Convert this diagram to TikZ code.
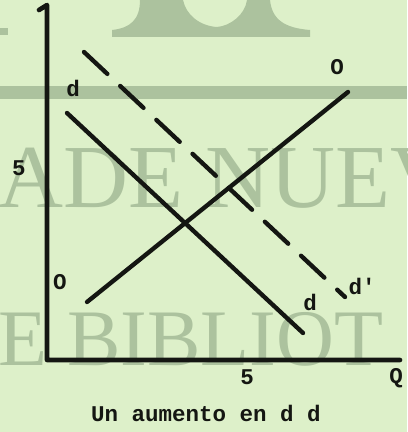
\documentclass[tikz,border=0pt]{standalone}
\usepackage{fontspec}
\setmainfont{Liberation Serif}
\setmonofont{Liberation Mono}
\definecolor{paper}{RGB}{221,240,201}
\definecolor{wmark}{RGB}{172,194,158}
\definecolor{ink}{RGB}{20,22,18}
\begin{document}
\begin{tikzpicture}[x=0.025cm,y=-0.025cm,
        axis/.style={ink, line width=3.3pt, line cap=round, line join=round},
        curve/.style={ink, line width=3.1pt, line cap=round},
        shifted/.style={curve, dash pattern=on 0.8cm off 0.44cm},
        lbl/.style={font=\fontsize{16}{16}\ttfamily\bfseries, text=ink, inner sep=0pt},
        wm/.style={text=wmark, inner sep=0pt, anchor=base west}
        ]
      \useasboundingbox (0,0) rectangle (407,432);
      \clip (0,0) rectangle (407,432);
      % paper and watermark
      \fill[paper] (0,0) rectangle (407,432);
      \fill[wmark] (0,86) rectangle (407,99);
      \fill[wmark] (0,28) rectangle (8,35);
      \fill[wmark] (112,37) -- (310,37) -- (310,30)
          .. controls (285,28) and (272,20) .. (270,0) -- (247,0)
          .. controls (245,15) and (230,26) .. (217,27)
          .. controls (200,26) and (186,15) .. (183,0) -- (140,0)
          .. controls (140,20) and (130,28) .. (112,30) -- cycle;
      \node[wm, font=\fontsize{64}{64}\rmfamily] (wm1) at (-2,207) {ADE NUEV};
      \node[wm, font=\fontsize{57}{57}\rmfamily] (wm2) at (-2,365) {E BIBLIOT};
      % axes
      \coordinate (ytop) at (47,5);
      \coordinate (org) at (47,360);
      \coordinate (xend) at (400,360);
      \draw[axis] (39,10) -- (ytop) -- (org) -- (xend);
      % curves
      \coordinate (d1) at (67,113);
      \coordinate (d2) at (303,333);
      \coordinate (o1) at (87,302);
      \coordinate (o2) at (348,92);
      \coordinate (dd1) at (84,52);
      \coordinate (dd2) at (345,297);
      \draw[curve] (d1) -- (d2);
      \draw[curve] (o1) -- (o2);
      \draw[shifted] (dd1) -- (dd2);
      % labels
      \node[lbl] (ld) at (73,88) {d};
      \node[lbl] (lo) at (337,67) {O};
      \node[lbl] (ldp) at (362,286) {d'};
      \node[lbl] (ld2) at (310,302) {d};
      \node[lbl] (lo2) at (60,282) {O};
      \node[lbl] (y5) at (19,168) {5};
      \node[lbl] (x5) at (247,377) {5};
      \node[lbl] (lq) at (396,378) {Q};
      \node[lbl] (cap) at (206,413) {Un aumento en d d};
    \end{tikzpicture}
\end{document}
